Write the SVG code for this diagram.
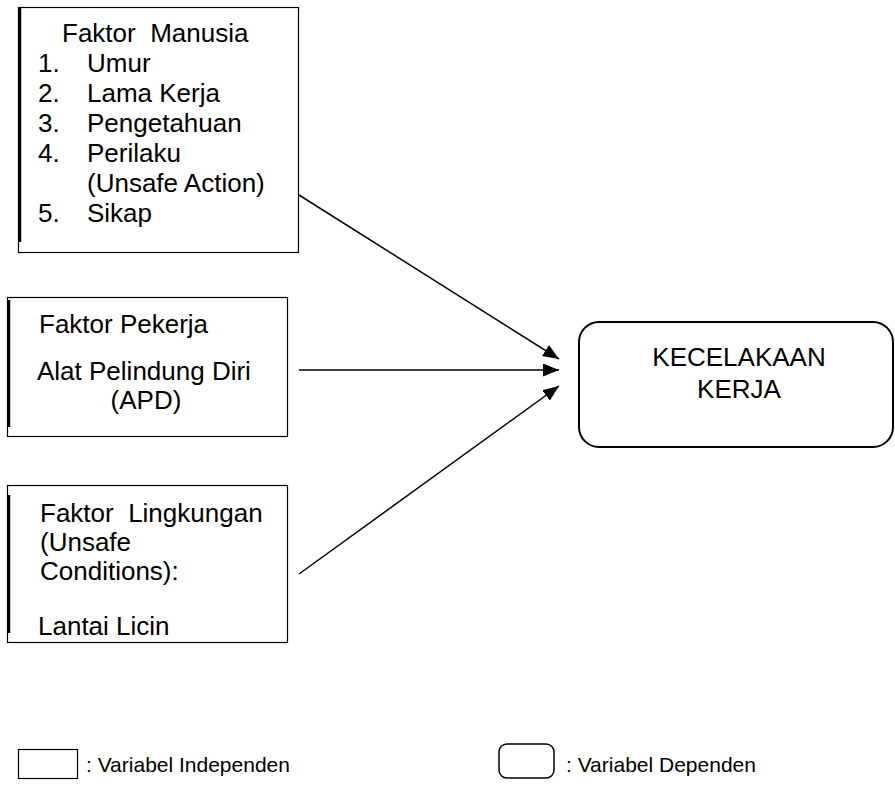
<svg xmlns="http://www.w3.org/2000/svg" width="895" height="785" viewBox="0 0 895 785">
<style>
text{font-family:"Liberation Sans",Arial,sans-serif;font-size:26px;fill:#000;white-space:pre}
.box{fill:#fff;stroke:#000;stroke-width:1.2}
.thick{stroke:#000;stroke-width:2.5}
.edge{stroke:#000;stroke-width:1.5;fill:none}
.rbox{fill:#fff;stroke:#000;stroke-width:2}
.leg{font-size:21px}
</style>
<defs>
<marker id="ah2" viewBox="0 0 16 13" refX="16" refY="6.5" markerWidth="16" markerHeight="13" markerUnits="userSpaceOnUse" orient="auto">
<path d="M0,0 L16,6.5 L0,13 z" fill="#000"/>
</marker>
</defs>
<rect width="895" height="785" fill="#fff"/>
<g id="n-manusia">
<rect class="box" x="18.5" y="7.5" width="280" height="245"/>
<line class="thick" x1="20" y1="7" x2="20" y2="242"/>
<text x="62" y="42">Faktor  Manusia</text>
<text x="38" y="72">1.</text><text x="87" y="72">Umur</text>
<text x="38" y="102">2.</text><text x="87" y="102">Lama Kerja</text>
<text x="38" y="132">3.</text><text x="87" y="132">Pengetahuan</text>
<text x="38" y="162">4.</text><text x="87" y="162">Perilaku</text>
<text x="87" y="192">(Unsafe Action)</text>
<text x="38" y="222">5.</text><text x="87" y="222">Sikap</text>
</g>
<g id="n-pekerja">
<rect class="box" x="7.5" y="297.5" width="280" height="139"/>
<line class="thick" x1="9" y1="300" x2="9" y2="427"/>
<text x="39" y="333">Faktor Pekerja</text>
<text x="37" y="380">Alat Pelindung Diri</text>
<text x="146" y="409" text-anchor="middle">(APD)</text>
</g>
<g id="n-lingkungan">
<rect class="box" x="7.5" y="485.5" width="280" height="157"/>
<line class="thick" x1="9" y1="495" x2="9" y2="633"/>
<text x="40" y="522">Faktor  Lingkungan</text>
<text x="40" y="551">(Unsafe</text>
<text x="40" y="580">Conditions):</text>
<text x="38" y="635">Lantai Licin</text>
</g>
<g id="n-kecelakaan">
<rect class="rbox" x="579" y="322" width="314" height="125" rx="20" ry="20"/>
<text x="739" y="366" text-anchor="middle">KECELAKAAN</text>
<text x="739" y="398" text-anchor="middle">KERJA</text>
</g>
<g id="connectors">
<line class="edge" x1="299" y1="195" x2="559" y2="359" marker-end="url(#ah2)"/>
<line class="edge" x1="299" y1="370" x2="559" y2="370" marker-end="url(#ah2)"/>
<line class="edge" x1="299" y1="574" x2="559" y2="386" marker-end="url(#ah2)"/>
</g>
<g id="legend">
<rect class="box" x="18.5" y="749.5" width="59" height="29"/>
<text class="leg" x="86" y="772">: Variabel Independen</text>
<rect class="rbox" x="499" y="744" width="55" height="34" rx="8" ry="8" style="stroke-width:1.5"/>
<text class="leg" x="566" y="772">: Variabel Dependen</text>
</g>
</svg>
